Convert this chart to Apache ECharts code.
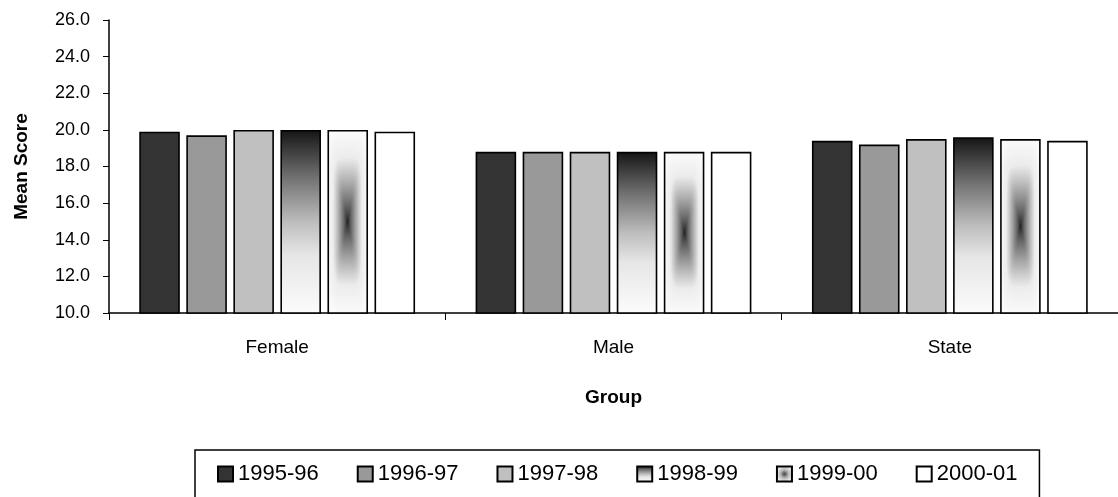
<!DOCTYPE html>
<html>
<head>
<meta charset="utf-8">
<script src="https://cdn.jsdelivr.net/npm/echarts@6/dist/echarts.min.js"></script>
<style>
  html, body { margin: 0; padding: 0; background: #fff; }
  #chart { width: 1118px; height: 497px; }
</style>
</head>
<body>
<div id="chart"></div>
<script>
(function () {
  "use strict";
  const chart = echarts.init(document.getElementById("chart"));

  // values
  const groups = ["Female", "Male", "State"];
  const years = ["1995-96", "1996-97", "1997-98", "1998-99", "1999-00", "2000-01"];
  const y1995 = [19.9, 18.8, 19.4];
  const y1996 = [19.7, 18.8, 19.2];
  const y1997 = [20.0, 18.8, 19.5];
  const y1998 = [20.0, 18.8, 19.6];
  const y1999 = [20.0, 18.8, 19.5];
  const y2000 = [19.9, 18.8, 19.4];
  const yMin = 10, yMax = 26, yStep = 2;

  const FONT = "'Liberation Sans', Arial, sans-serif";

  const fills = [
    "#333333",
    "#999999",
    "#c0c0c0",
    { type: "linear", x: 0, y: 0, x2: 0, y2: 1, colorStops: [
      { offset: 0, color: "#141414" }, { offset: 0.25, color: "#6e6e6e" },
      { offset: 0.5, color: "#bdbdbd" }, { offset: 0.68, color: "#e6e6e6" },
      { offset: 1, color: "#fcfcfc" }] },
    { type: "radial", x: 0.5, y: 0.5, r: 0.5, colorStops: [
      { offset: 0, color: "#444" }, { offset: 0.5, color: "#bbb" }, { offset: 1, color: "#f6f6f6" }] },
    "#ffffff",
  ];
  const values = [y1995, y1996, y1997, y1998, y1999, y2000];

  // "from centre" shading for the 1999-00 bars, painted into one chart-sized image
  function paintShade(img, W, rect) {
    const x0 = Math.round(rect.x), y0 = Math.round(rect.y);
    const w = Math.round(rect.width), h = Math.round(rect.height);
    for (let j = 0; j < h; j++) {
      for (let i = 0; i < w; i++) {
        const u = Math.abs((i + 0.5) / w * 2 - 1);
        const v = Math.abs((j + 0.5) / h * 2 - 1);
        const t = Math.pow(Math.pow(u, 5) + Math.pow(v, 5), 1 / 5);
        let g;
        if (t < 0.7) g = 28 + (236 - 28) * Math.pow(t / 0.7, 0.75);
        else g = 236 + (250 - 236) * Math.min(1, (t - 0.7) / 0.3);
        const k = ((y0 + j) * W + (x0 + i)) * 4;
        img.data[k] = img.data[k + 1] = img.data[k + 2] = g;
        img.data[k + 3] = 255;
      }
    }
  }

  function buildSeries(shadeColor) {
    return years.map((name, s) => ({
      name,
      type: "bar",
      data: (s === 4 && shadeColor) ? values[s].map(v => ({ value: v, itemStyle: { color: shadeColor } })) : values[s],
      barGap: "16%",
      barCategoryGap: "18%",
      itemStyle: { color: fills[s], borderColor: "#000", borderWidth: 1.6 },
    }));
  }

  const option = {
    animation: false,
    backgroundColor: "#fff",
    textStyle: { fontFamily: FONT },
    grid: { left: 109, right: -8, top: 20, height: 293 },
    legend: {
      left: 195, top: 450,
      padding: [13, 22, 20, 22],
      borderColor: "#000", borderWidth: 1.5,
      itemWidth: 15, itemHeight: 15, itemGap: 38,
      icon: "rect",
      textStyle: { fontSize: 22, color: "#000", fontFamily: FONT },
      data: years,
    },
    xAxis: {
      type: "category",
      data: groups,
      name: "Group",
      nameLocation: "middle",
      nameGap: 75,
      nameTextStyle: { fontSize: 19, fontWeight: "bold", color: "#000", fontFamily: FONT },
      axisLine: { lineStyle: { color: "#000", width: 1.5 } },
      axisTick: { show: true, length: 7, lineStyle: { color: "#000", width: 1 } },
      axisLabel: { fontSize: 19, color: "#000", margin: 25, fontFamily: FONT },
    },
    yAxis: {
      type: "value",
      min: yMin, max: yMax, interval: yStep,
      name: "Mean Score",
      nameLocation: "middle",
      nameRotate: 90,
      nameGap: 78,
      nameTextStyle: { fontSize: 19, fontWeight: "bold", color: "#000", fontFamily: FONT },
      axisLine: { show: true, lineStyle: { color: "#000", width: 1.5 } },
      axisTick: { show: true, length: 6, lineStyle: { color: "#000", width: 1 } },
      axisLabel: { fontSize: 18, color: "#000", margin: 19, formatter: v => v.toFixed(1), fontFamily: FONT },
      splitLine: { show: false },
    },
    series: buildSeries(null),
  };

  chart.setOption(option);

  // second pass: paint the 1999-00 shading where the library laid those bars out
  // (layout runs down to value 0, so cut it at the axis minimum)
  const W = chart.getWidth(), H = chart.getHeight();
  const canvas = document.createElement("canvas");
  canvas.width = W;
  canvas.height = H;
  const ctx = canvas.getContext("2d");
  const img = ctx.createImageData(W, H);
  const data = chart.getModel().getSeriesByIndex(4).getData();
  const axisBottom = chart.convertToPixel({ yAxisIndex: 0 }, yMin);
  y1999.forEach((v, i) => {
    const l = data.getItemLayout(i);
    const top = Math.min(l.y, l.y + l.height);
    const bottom = Math.min(Math.max(l.y, l.y + l.height), axisBottom);
    paintShade(img, W, {
      x: Math.min(l.x, l.x + l.width),
      y: top,
      width: Math.abs(l.width),
      height: bottom - top,
    });
  });
  ctx.putImageData(img, 0, 0);
  chart.setOption({ series: buildSeries({ image: canvas, repeat: "no-repeat" }) });
})();
</script>
</body>
</html>
